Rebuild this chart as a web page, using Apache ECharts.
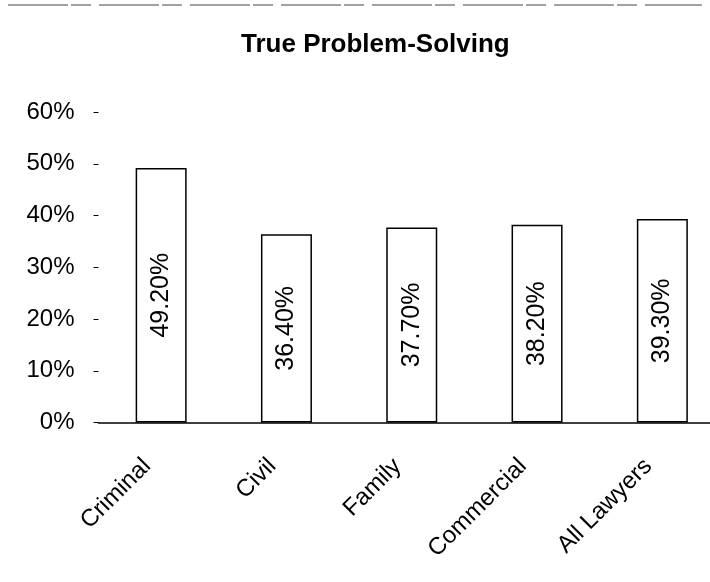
<!DOCTYPE html>
<html>
<head>
<meta charset="utf-8">
<script src="https://cdn.jsdelivr.net/npm/echarts@6/dist/echarts.min.js"></script>
<style>
    html, body { margin: 0; padding: 0; background: #fff; }
    #chart { width: 710px; height: 582px; }
</style>
</head>
<body>
<div id="chart"></div>
<script>
const categories = ['Criminal', 'Civil', 'Family', 'Commercial', 'All Lawyers']
const values = [49.2, 36.4, 37.7, 38.2, 39.3]
const yTicks = [0, 10, 20, 30, 40, 50, 60]

var dom = document.getElementById('chart');
var myChart = echarts.init(dom, null, { renderer: 'canvas' });
var font = 'Liberation Sans, Arial, sans-serif'

var option = {
    backgroundColor: '#fff',
    animation: false,
    title: {
        text: 'True Problem-Solving',
        left: 236,
        top: 27,
        textStyle: { fontFamily: font, fontSize: 26, fontWeight: 'bold', color: '#000' }
    },
    // faint broken border line at the top of the scan
    graphic: [
        {
            type: 'line',
            shape: { x1: 8, y1: 5, x2: 702, y2: 5 },
            style: { stroke: '#444', lineWidth: 1, lineDash: [60, 3, 20, 8] }
        }
    ],
    grid: {
        left: 98.5,
        top: 112,
        width: 626.5,
        height: 310.5,
        containLabel: false,
        outerBoundsMode: 'none'
    },
    xAxis: {
        type: 'category',
        data: categories,
        axisLine: { lineStyle: { color: '#000', width: 1.5 } },
        axisTick: { show: false },
        axisLabel: {
            rotate: 45,
            margin: 26,
            padding: [0, 20, 0, 0],
            fontFamily: font,
            fontSize: 24,
            color: '#000'
        }
    },
    yAxis: {
        type: 'value',
        min: 0,
        max: 60,
        interval: 10,
        splitLine: { show: false },
        axisLine: { show: false },
        axisTick: { show: true, length: 5, lineStyle: { color: '#000' } },
        axisLabel: {
            margin: 24,
            fontFamily: font,
            fontSize: 24,
            color: '#000',
            formatter: function (v) { return yTicks.indexOf(v) >= 0 ? v + '%' : '' }
        }
    },
    series: [
        {
            type: 'bar',
            data: values,
            barWidth: 51,
            itemStyle: { color: '#fff', borderColor: '#000', borderWidth: 1.5 },
            label: {
                show: true,
                position: 'inside',
                rotate: 90,
                fontFamily: font,
                fontSize: 25,
                color: '#000',
                formatter: function (p) { return p.value.toFixed(2) + '%' }
            }
        }
    ]
};

option && myChart.setOption(option);
</script>
</body>
</html>
